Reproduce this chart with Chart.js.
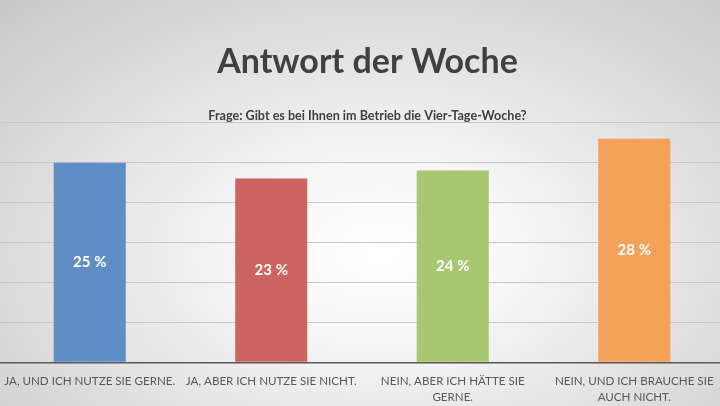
<!DOCTYPE html>
<html>
<head>
<meta charset="utf-8">
<script src="https://cdn.jsdelivr.net/npm/chart.js@4.4.1/dist/chart.umd.min.js"></script>
<style>
  html, body { margin: 0; padding: 0; width: 720px; height: 406px; overflow: hidden; }
  body {
    background: radial-gradient(ellipse 75% 85% at 53% 62%, #ffffff 0%, #f7f7f7 25%, #dedede 65%, #c9c9c9 100%);
    position: relative;
  }
  #wrap { position: absolute; left: -1px; top: 0; width: 726px; height: 406px; }
</style>
</head>
<body>
<div id="wrap"><canvas id="c"></canvas></div>
<script>
const titleText = "Antwort der Woche";
const subtitleText = "Frage: Gibt es bei Ihnen im Betrieb die Vier-Tage-Woche?";
const categories = [
  ["JA, UND ICH NUTZE SIE GERNE."],
  ["JA, ABER ICH NUTZE SIE NICHT."],
  ["NEIN, ABER ICH HÄTTE SIE", "GERNE."],
  ["NEIN, UND ICH BRAUCHE SIE", "AUCH NICHT."]
];
const values = [25, 23, 24, 28];
const barColors = ["#5f8ec6", "#cc6461", "#a8c76f", "#f4a15a"];
const yMin = 0, yMax = 30, yStep = 5;

const FONT = "Lato, 'Open Sans', sans-serif";

const headings = {
  id: 'headings',
  afterDraw(chart) {
    const ctx = chart.ctx;
    ctx.save();
    ctx.fillStyle = '#404040';
    ctx.textAlign = 'center';
    ctx.textBaseline = 'alphabetic';
    ctx.font = "bold 34px " + FONT;
    ctx.fillText(titleText, 368.5, 72.7);
    ctx.font = "bold 12.6px " + FONT;
    ctx.fillText(subtitleText, 368.5, 119.5);
    ctx.restore();
  }
};

const valueLabels = {
  id: 'valueLabels',
  afterDatasetsDraw(chart) {
    const ctx = chart.ctx;
    const meta = chart.getDatasetMeta(0);
    ctx.save();
    ctx.fillStyle = '#ffffff';
    ctx.font = "bold 15px " + FONT;
    ctx.textAlign = 'center';
    ctx.textBaseline = 'middle';
    meta.data.forEach((bar, i) => {
      const p = bar.getProps(['x', 'y', 'base'], true);
      ctx.fillText(values[i] + " %", p.x, (p.y + p.base) / 2);
    });
    ctx.restore();
  }
};

new Chart(document.getElementById('c'), {
  type: 'bar',
  data: {
    labels: categories,
    datasets: [{
      data: values,
      backgroundColor: barColors,
      borderWidth: 0,
      categoryPercentage: 1.0,
      barPercentage: 0.397
    }]
  },
  options: {
    responsive: true,
    maintainAspectRatio: false,
    animation: false,
    layout: { padding: { top: 122.7, left: 0, right: 0, bottom: 0 } },
    plugins: {
      legend: { display: false },
      tooltip: { enabled: false },
      title: { display: false },
      subtitle: { display: false }
    },
    scales: {
      x: {
        grid: { display: false, drawTicks: false },
        border: { display: true, color: '#595959', width: 1.6 },
        ticks: {
          color: '#595959',
          font: { family: FONT, size: 11.6, lineHeight: 1.36 },
          padding: 11,
          maxRotation: 0,
          autoSkip: false
        },
        afterFit(scale) {
          scale.height = 43.7;
          scale.paddingLeft = 0;
          scale.paddingRight = 0;
        }
      },
      y: {
        min: yMin,
        max: yMax,
        ticks: { display: false, stepSize: yStep },
        grid: {
          drawTicks: false,
          color: (c) => (c.tick && c.tick.value === 0) ? 'rgba(0,0,0,0)' : '#c6c6c6',
          lineWidth: 1
        },
        border: { display: false },
        afterFit(scale) { scale.width = 0; }
      }
    }
  },
  plugins: [valueLabels, headings]
});
</script>
</body>
</html>
